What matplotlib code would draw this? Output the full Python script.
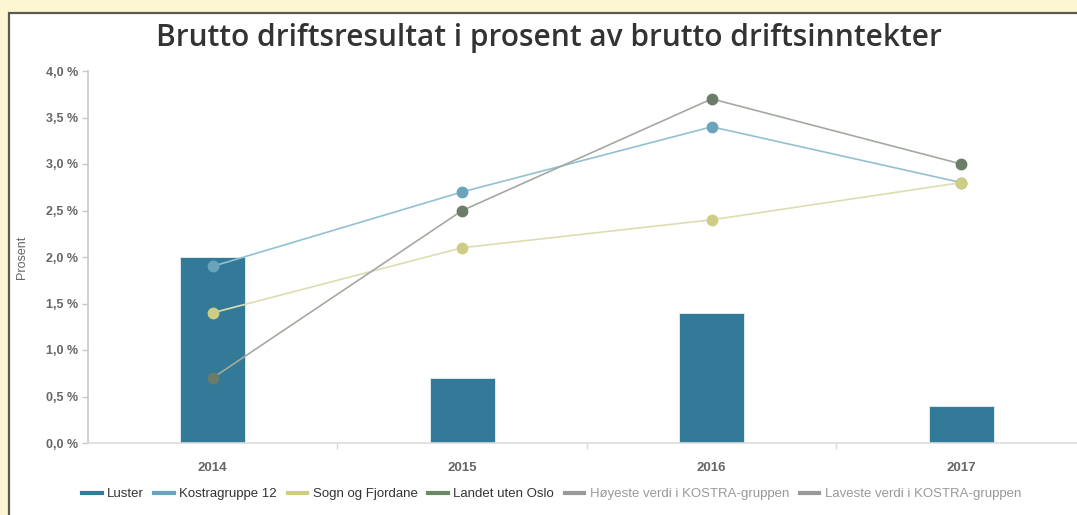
import matplotlib
matplotlib.use('Agg')
import matplotlib.pyplot as plt
from matplotlib.lines import Line2D
from matplotlib.patches import Rectangle
from matplotlib.ticker import FuncFormatter, FixedLocator
import numpy as np

years = ['2014', '2015', '2016', '2017']
luster = [2.0, 0.7, 1.4, 0.4]
kostragruppe = [1.9, 2.7, 3.4, 2.8]
sogn_fjordane = [1.4, 2.1, 2.4, 2.8]
landet_uten_oslo = [0.7, 2.5, 3.7, 3.0]

plt.rcParams['font.family'] = ['Liberation Sans', 'DejaVu Sans']

fig = plt.figure(figsize=(10.77, 5.15), dpi=100)
fig.patch.set_facecolor('#fcf7d2')

# white panel with dark border, running off the right and bottom edges
panel = Rectangle((9 / 1077, -0.1), 1.2, (515 - 13) / 515 + 0.1,
                  transform=fig.transFigure, facecolor='white',
                  edgecolor='#5a5a50', linewidth=1.6, zorder=-10)
fig.patches.append(panel)

ax = fig.add_axes([88 / 1077, (515 - 443) / 515, (1086 - 88) / 1077, (443 - 71) / 515])
ax.set_facecolor('none')

x = np.arange(len(years))
ax.bar(x, luster, width=0.26, color='#337a98', edgecolor='#e8f0f4', linewidth=0.6, zorder=2)

ax.plot(x, kostragruppe, color='#92c0d2', lw=1.2, marker='o', ms=7.5,
        mfc='#6aa3bc', mec='#6aa3bc', zorder=3)
ax.plot(x, sogn_fjordane, color='#dcddb0', lw=1.2, marker='o', ms=7.5,
        mfc='#cfcc85', mec='#cfcc85', zorder=3)
ax.plot(x, landet_uten_oslo, color='#a3aaa0', lw=1.2, marker='o', ms=7.5,
        mfc='#6b7d69', mec='#6b7d69', zorder=3)

ax.set_xlim(-0.5, 3.5)
ax.set_ylim(0, 4)
ax.set_yticks(np.arange(0, 4.01, 0.5))
ax.yaxis.set_major_formatter(FuncFormatter(lambda v, p: f'{v:.1f} %'.replace('.', ',')))
ax.tick_params(axis='y', colors='#c8c8c8', labelcolor='#666666', labelsize=9,
               length=4, width=1, pad=3)
for t in ax.get_yticklabels():
    t.set_fontweight('bold')

ax.set_xticks(x)
ax.set_xticklabels(years, fontweight='bold')
ax.tick_params(axis='x', length=0, labelcolor='#666666', labelsize=9.5, pad=14)
ax.xaxis.set_minor_locator(FixedLocator([0.5, 1.5, 2.5]))
ax.tick_params(axis='x', which='minor', length=4, color='#d8d8d8', width=1)

for s in ['top', 'right']:
    ax.spines[s].set_visible(False)
ax.spines['left'].set_color('#c8c8c8')
ax.spines['left'].set_linewidth(1.2)
ax.spines['bottom'].set_color('#dddddd')
ax.spines['bottom'].set_linewidth(1.2)

ax.set_ylabel('Prosent', fontsize=9, color='#666666')
ax.yaxis.set_label_coords(-60 / 998, 0.5)

fig.text(0.51, 1 - 38 / 515, 'Brutto driftsresultat i prosent av brutto driftsinntekter',
         ha='center', va='center', fontsize=21.5, fontweight='semibold',
         color='#333333', family='Open Sans')

handles = [
    Line2D([], [], color='#337a98', lw=3),
    Line2D([], [], color='#6aa3bc', lw=3),
    Line2D([], [], color='#cfcc85', lw=3),
    Line2D([], [], color='#6b8a69', lw=3),
    Line2D([], [], color='#999999', lw=3),
    Line2D([], [], color='#999999', lw=3),
]
labels = ['Luster', 'Kostragruppe 12', 'Sogn og Fjordane', 'Landet uten Oslo',
          'Høyeste verdi i KOSTRA-gruppen', 'Laveste verdi i KOSTRA-gruppen']
leg = fig.legend(handles, labels, loc='center', bbox_to_anchor=(0.512, 1 - 494 / 515),
                 ncol=6, frameon=False, fontsize=9.5, handlelength=1.5,
                 handletextpad=0.4, columnspacing=0.8)
for t in leg.get_texts():
    t.set_color('#333333')
for t in leg.get_texts()[4:]:
    t.set_color('#999999')

fig.savefig('out.png', dpi=100, facecolor=fig.get_facecolor())
